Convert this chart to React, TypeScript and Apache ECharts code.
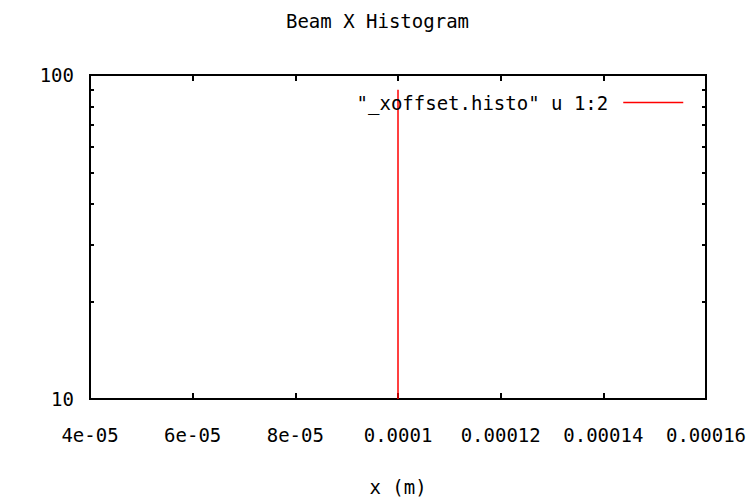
import React, { useEffect, useRef } from "react";
import * as echarts from "echarts";

// Histogram of beam x offset (one populated bin)
const binX: number[] = [0.0001, 0.0001];
const binCount: number[] = [10, 90];

const xTickValues: number[] = [4e-5, 6e-5, 8e-5, 1e-4, 1.2e-4, 1.4e-4, 1.6e-4];
const xTickLabels: string[] = ["4e-05", "6e-05", "8e-05", "0.0001", "0.00012", "0.00014", "0.00016"];
const yMinorTicks: number[] = [20, 30, 40, 50, 60, 70, 80, 90];
const yTickLabels: string[] = ["10", "100"];

const seriesName = '"_xoffset.histo" u 1:2';
const FONT = "DejaVu Sans Mono";

export default function App() {
  const ref = useRef<HTMLDivElement>(null);

  useEffect(() => {
    if (!ref.current) return;
    const chart = echarts.init(ref.current, null, { renderer: "svg" });
    const axisLine = { show: true, lineStyle: { color: "#000", width: 2 } };
    const labelStyle = { fontFamily: FONT, fontSize: 19, color: "#000" };

    const xCommon = {
      type: "value" as const,
      min: xTickValues[0],
      max: xTickValues[xTickValues.length - 1],
      interval: 2e-5,
      splitLine: { show: false },
      axisLine,
      axisTick: { show: true, inside: true, length: 6, lineStyle: { color: "#000", width: 2 } },
    };
    const yCommon = {
      type: "log" as const,
      logBase: 10,
      min: 10,
      max: 100,
      splitLine: { show: false },
      axisLine,
      axisTick: {
        show: true,
        inside: true,
        length: 4,
        customValues: yMinorTicks,
        lineStyle: { color: "#000", width: 2 },
      },
    };

    chart.setOption({
      animation: false,
      backgroundColor: "#fff",
      title: {
        text: "Beam X Histogram",
        left: "center",
        top: 6,
        textStyle: { ...labelStyle, fontWeight: "normal" },
      },
      grid: {
        left: 90,
        right: 49,
        top: 75,
        bottom: 99,
        show: true,
        borderColor: "#000",
        borderWidth: 2,
      },
      legend: {
        show: true,
        right: 66,
        top: 88,
        align: "right",
        itemWidth: 60,
        itemHeight: 14,
        itemStyle: { opacity: 0 },
        lineStyle: { color: "#ff0000", width: 1.5 },
        textStyle: { ...labelStyle, padding: [0, 10, 0, 0] },
        data: [seriesName],
      },
      xAxis: [
        {
          ...xCommon,
          position: "bottom",
          name: "x (m)",
          nameLocation: "middle",
          nameGap: 78,
          nameTextStyle: labelStyle,
          axisLabel: {
            ...labelStyle,
            margin: 26,
            formatter: (_v: number, i: number) => xTickLabels[i] ?? "",
          },
        },
        { ...xCommon, position: "top", axisLabel: { show: false } },
      ],
      yAxis: [
        {
          ...yCommon,
          position: "left",
          axisLabel: {
            ...labelStyle,
            margin: 16,
            customValues: [10, 100],
            formatter: (v: number) => (v >= 100 ? yTickLabels[1] : yTickLabels[0]),
          },
        },
        { ...yCommon, position: "right", axisLabel: { show: false } },
      ],
      series: [
        {
          name: seriesName,
          type: "line",
          symbol: "none",
          xAxisIndex: 0,
          yAxisIndex: 0,
          data: binX.map((x, i) => [x, binCount[i]]),
          lineStyle: { color: "#ff0000", width: 1.5 },
          itemStyle: { color: "#ff0000" },
        },
      ],
    });
    return () => chart.dispose();
  }, []);

  return (
    <div
      ref={ref}
      style={{ position: "fixed", left: 0, top: 0, width: 755, height: 501, background: "#fff" }}
    />
  );
}
